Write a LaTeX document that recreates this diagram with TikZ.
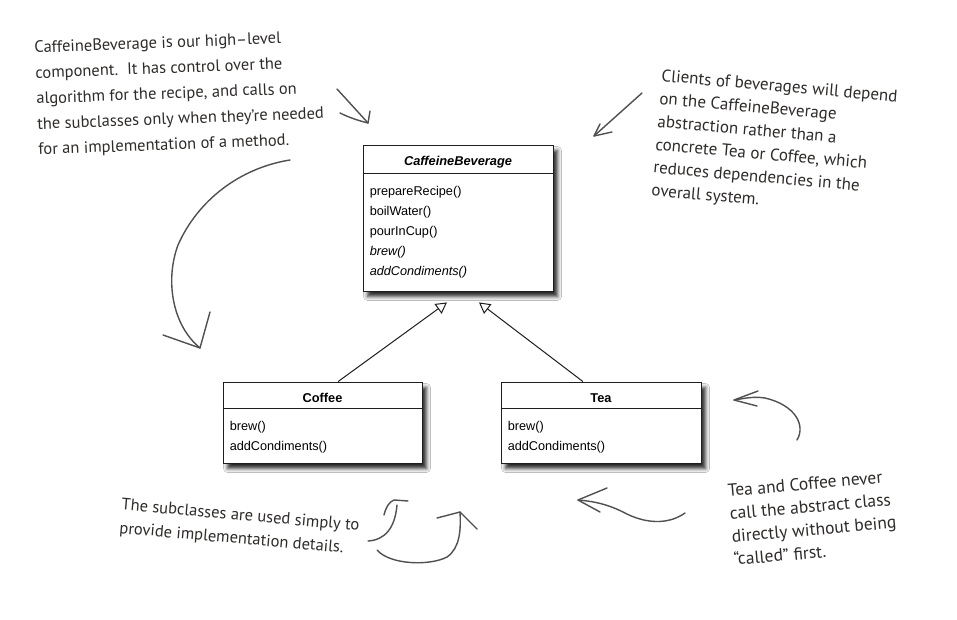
\documentclass[tikz,border=0pt]{standalone}
\usepackage{fontspec}
\setmainfont{Liberation Sans}
\newfontfamily\handfont{PT Sans}
\usetikzlibrary{arrows.meta,shadows.blur,calc}
\definecolor{hand}{HTML}{2E2B29}
\definecolor{handline}{HTML}{505050}
\definecolor{umlline}{HTML}{1E1E1E}
\begin{document}
\begin{tikzpicture}[x=1pt,y=-1pt,
  umlbox/.style={draw=umlline, line width=0.9pt, fill=white, rectangle, inner sep=0pt,
    blur shadow={shadow xshift=4.5pt, shadow yshift=-5.5pt, shadow blur radius=4pt, shadow opacity=85}},
  umltxt/.style={inner sep=0pt, anchor=base west, font=\fontsize{12.7}{15}\selectfont},
  umltitle/.style={inner sep=0pt, anchor=base, font=\fontsize{12.8}{15}\selectfont\bfseries},
  note/.style={inner sep=0pt, align=left, text=hand, font=\handfont\fontsize{16.5}{23.5}\selectfont},
  handarrow/.style={draw=handline, line width=1.4pt, line cap=round, line join=round},
  inherit/.style={draw=umlline, line width=1pt, -{Triangle[length=11pt, width=12pt, fill=white, line width=1pt]}}
]
\useasboundingbox (0,0) rectangle (957,620);
\fill[white] (0,0) rectangle (957,620);

% ---------- class boxes ----------
\node[umlbox, minimum width=190pt, minimum height=146pt] (main) at (458,218) {};
\draw[umlline, line width=0.9pt] ($(main.north west)+(0,29)$) coordinate (mainsepL) -- ($(main.north east)+(0,29)$) coordinate (mainsepR);
\node[umltitle] (maintitle) at ($(main.north)+(0,20.5)$) {\itshape CaffeineBeverage};
\node[umltxt] (m1) at ($(main.north west)+(7,50.5)$) {prepareRecipe()};
\node[umltxt] (m2) at ($(main.north west)+(7,70.5)$) {boilWater()};
\node[umltxt] (m3) at ($(main.north west)+(7,90.5)$) {pourInCup()};
\node[umltxt] (m4) at ($(main.north west)+(7,110.5)$) {\itshape brew()};
\node[umltxt] (m5) at ($(main.north west)+(7,130.5)$) {\itshape addCondiments()};

\node[umlbox, minimum width=199pt, minimum height=81pt] (coffee) at (322.5,422.5) {};
\draw[umlline, line width=0.9pt] ($(coffee.north west)+(0,27)$) -- ($(coffee.north east)+(0,27)$);
\node[umltitle] (coffeetitle) at ($(coffee.north)+(0,20.5)$) {Coffee};
\node[umltxt] (c1) at ($(coffee.north west)+(7,48.5)$) {brew()};
\node[umltxt] (c2) at ($(coffee.north west)+(7,68.5)$) {addCondiments()};

\node[umlbox, minimum width=200pt, minimum height=81pt] (tea) at (601,422.5) {};
\draw[umlline, line width=0.9pt] ($(tea.north west)+(0,27)$) -- ($(tea.north east)+(0,27)$);
\node[umltitle] (teatitle) at ($(tea.north)+(0,20.5)$) {Tea};
\node[umltxt] (t1) at ($(tea.north west)+(7,48.5)$) {brew()};
\node[umltxt] (t2) at ($(tea.north west)+(7,68.5)$) {addCondiments()};

% ---------- inheritance ----------
\coordinate (tipL) at ($(main.south west)!0.442!(main.south east)+(0,11)$);
\coordinate (tipR) at ($(main.south west)!0.61!(main.south east)+(0,11)$);
\draw[inherit] ($(coffee.north west)!0.578!(coffee.north east)$) -- (tipL);
\draw[inherit] ($(tea.north west)!0.41!(tea.north east)$) -- (tipR);

% ---------- notes ----------
\node[note, anchor=north west, rotate=2.2] (noteTL) at (34,41)
 {CaffeineBeverage is our high–level\\[2pt]
  component.\ \ It has control over the\\[2pt]
  algorithm for the recipe, and calls on\\[2pt]
  the subclasses only when they’re needed\\[2pt]
  for an implementation of a method.};

\node[note, anchor=north west, rotate=-5, font=\handfont\fontsize{17}{23}\selectfont] (noteTR) at (662,69)
 {Clients of beverages will depend\\
  on the CaffeineBeverage\\
  abstraction rather than a\\
  concrete Tea or Coffee, which\\
  reduces dependencies in the\\
  overall system.};

\node[note, anchor=north west, rotate=-5] (noteBL) at (122,498)
 {The subclasses are used simply to\\
  provide implementation details.};

\node[note, anchor=north west, rotate=5, font=\handfont\fontsize{17.5}{23}\selectfont] (noteBR) at (727,484)
 {Tea and Coffee never\\
  call the abstract class\\
  directly without being\\
  “called” first.};

% ---------- hand-drawn arrows ----------
% top-left small arrow to main box
\coordinate (a1s) at (337,89);
\coordinate (a1t) at (368,123);
\draw[handarrow] (a1s) .. controls (348,101) and (358,112) .. (a1t);
\draw[handarrow] (340,113) .. controls (350,118) and (360,121) .. (a1t) -- (370,111);

% top-left big curve to Coffee
\coordinate (a2s) at (290,160);
\coordinate (a2t) at (200,348);
\draw[handarrow] (a2s) .. controls (240,168) and (198,200) .. (178,245)
  .. controls (165,280) and (172,325) .. (a2t);
\draw[handarrow] (163,335) -- (a2t) -- (210,312);

% top-right arrow to main box
\coordinate (a3s) at (642,93);
\coordinate (a3t) at (594,136);
\draw[handarrow] (a3s) -- (a3t);
\draw[handarrow] (600,124) -- (a3t) -- (612,132);

% bottom-left small hook
\coordinate (a4s) at (368,541);
\coordinate (a4t) at (394,500);
\draw[handarrow] (a4s) .. controls (385,540) and (395,528) .. (397,505);
\draw[handarrow] (384,515) .. controls (386,507) and (389,502) .. (a4t) -- (408,501);

% bottom-left long hook
\coordinate (a5s) at (377,550);
\coordinate (a5t) at (460,512);
\draw[handarrow] (a5s) .. controls (390,565) and (430,566) .. (447,557)
  .. controls (460,548) and (461,530) .. (a5t);
\draw[handarrow] (437,518) -- (a5t) -- (477,529);

% bottom-right upper arrow (to Tea)
\coordinate (a6s) at (797,440);
\coordinate (a6t) at (734,400);
\draw[handarrow] (a6s) .. controls (806,425) and (795,405) .. (765,398)
  .. controls (752,396) and (742,399) .. (a6t);
\draw[handarrow] (758,391) -- (a6t) -- (757,406);

% bottom-right lower arrow
\coordinate (a7s) at (685,513);
\coordinate (a7t) at (578,500);
\draw[handarrow] (a7s) .. controls (668,525) and (645,524) .. (623,512)
  .. controls (605,503) and (590,501) .. (a7t);
\draw[handarrow] (607,488) -- (a7t) -- (600,512);
\end{tikzpicture}
\end{document}
